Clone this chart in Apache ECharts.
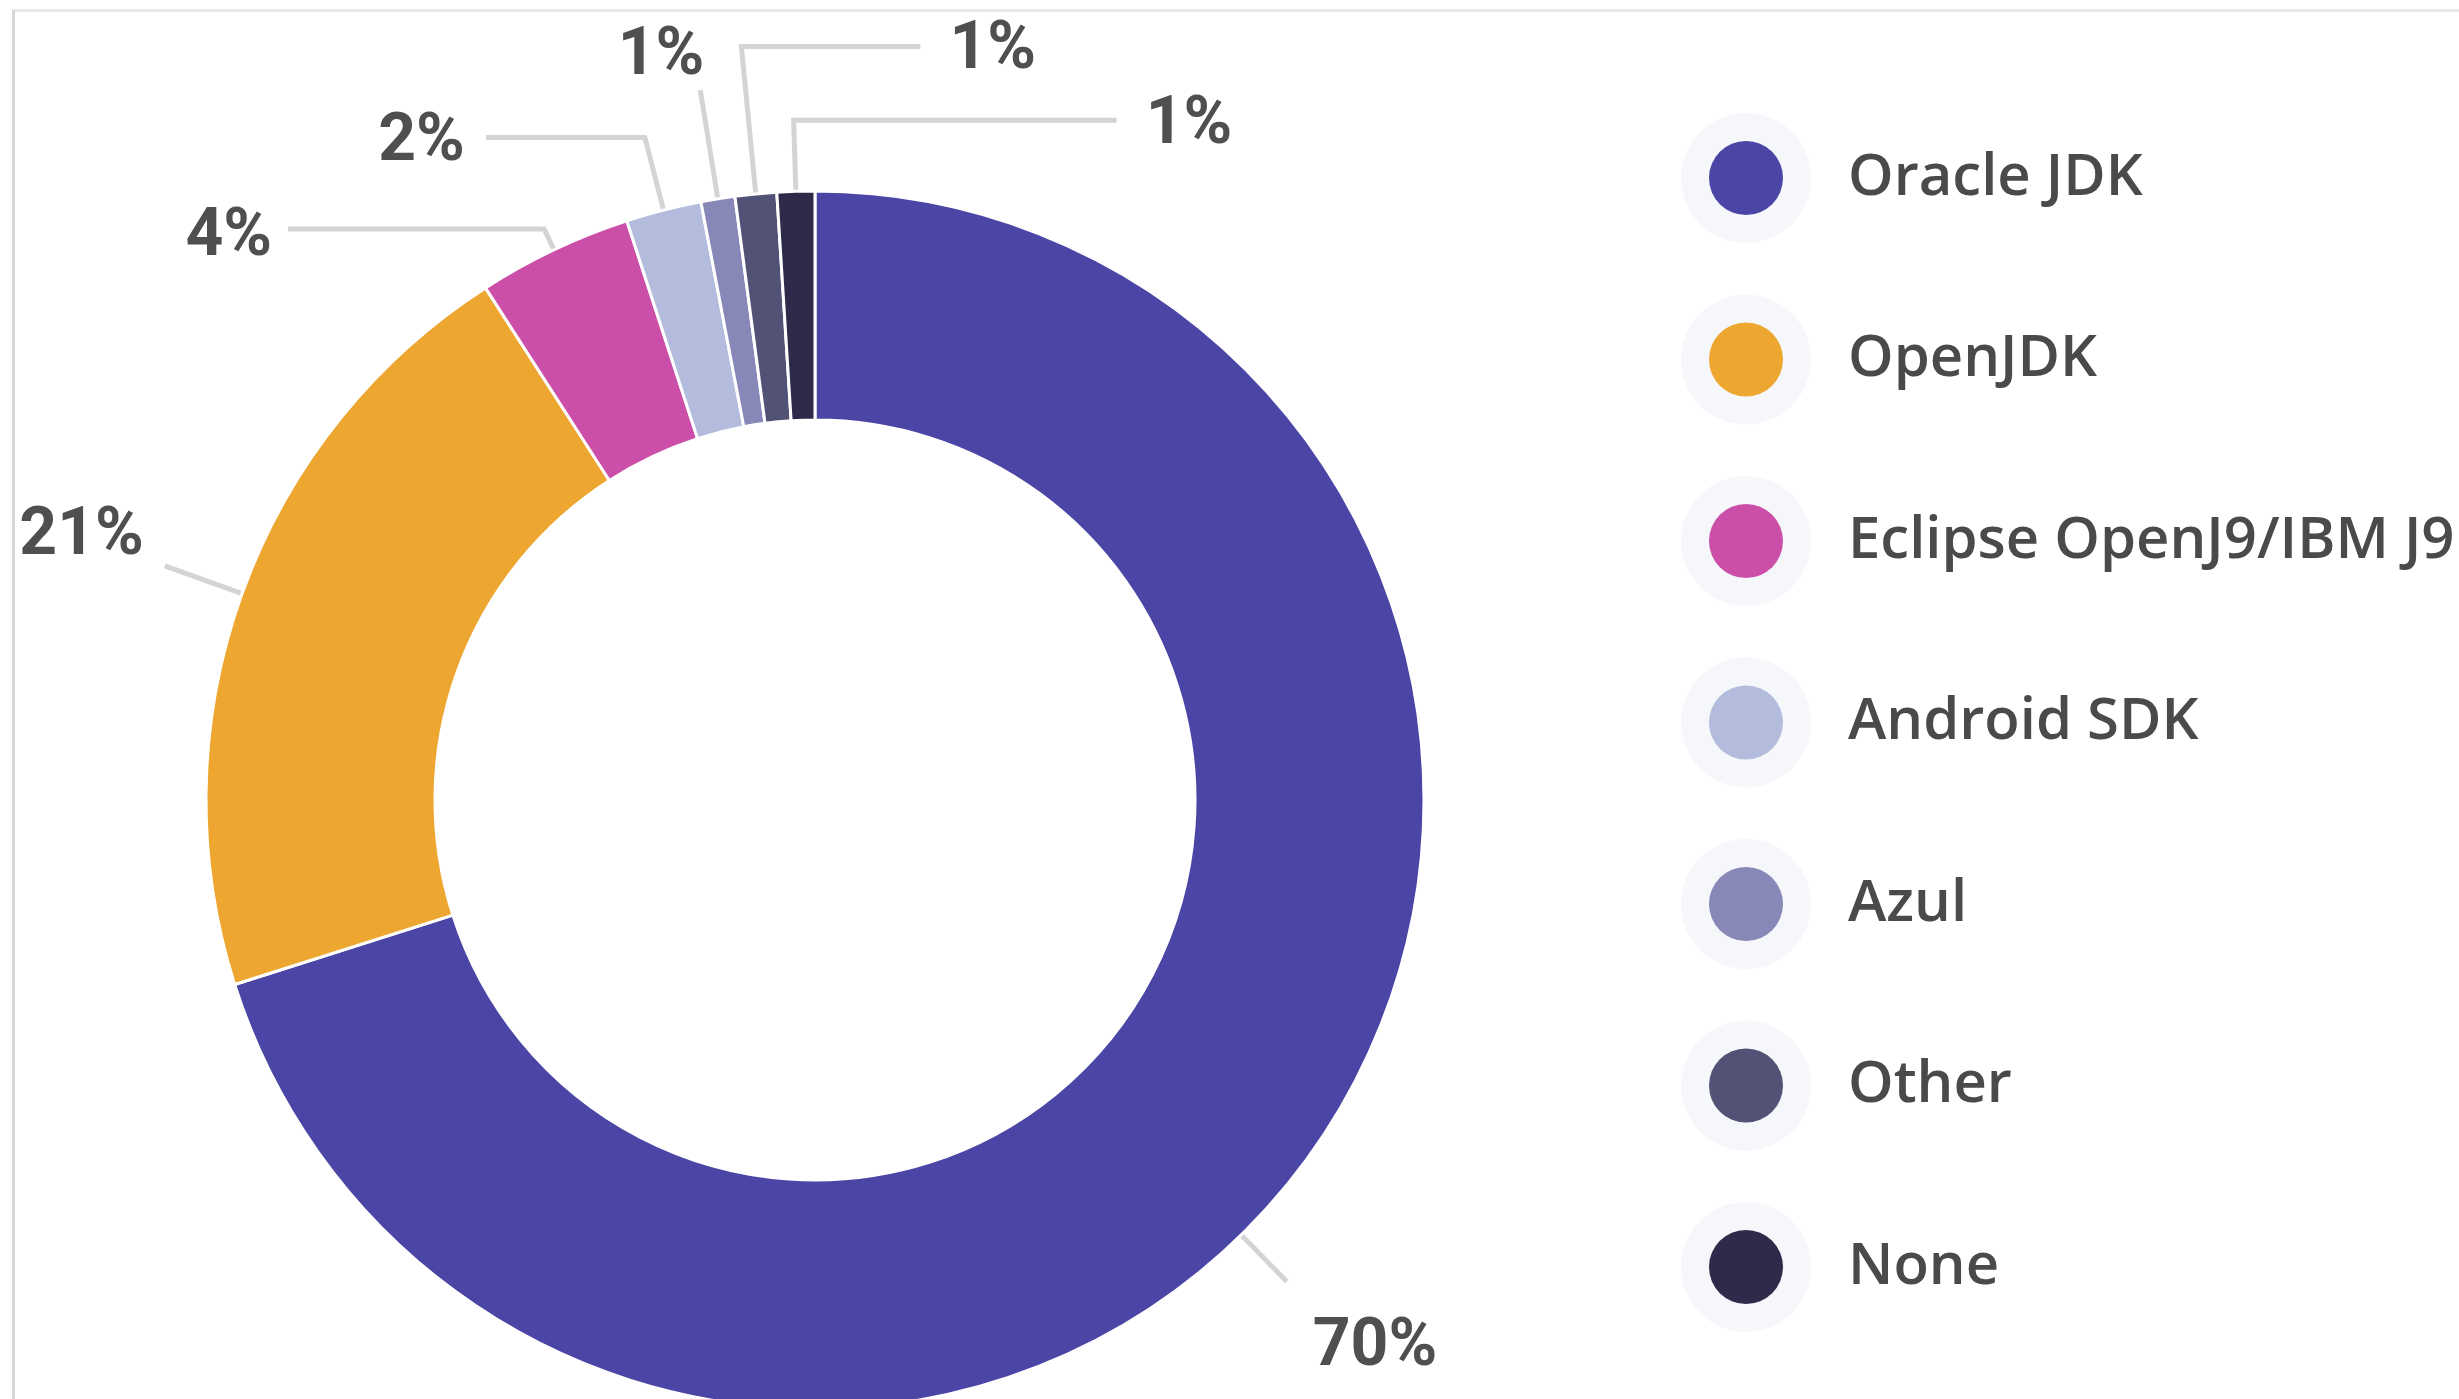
<!DOCTYPE html>
<html lang="en">
  <head>
    <meta charset="utf-8" />
    <style>
      html, body { margin: 0; height: 100%; background: #ffffff; }
      #frame {
        position: absolute; left: 12px; top: 9px; right: -20px; bottom: -20px;
        border-left: 3px solid #d6d6d6; border-top: 3px solid #e7e7e7;
      }
      #container { position: absolute; left: 0; top: 0; width: 2459px; height: 1399px; }
    </style>
  </head>
  <body>
    <div id="frame"></div>
    <div id="container"></div>

    <script src="https://cdn.jsdelivr.net/npm/echarts@6.0.0/dist/echarts.min.js"></script>
    <script type="text/javascript">
      // vendors and their share (%), clockwise from 12 o'clock
      const vendors = ["Oracle JDK", "OpenJDK", "Eclipse OpenJ9/IBM J9", "Android SDK", "Azul", "Other", "None"];
      const shares = [70.1, 20.8, 4.1, 2.0, 0.9, 1.1, 1.0];
      const colors = ["#4b45a5", "#eda630", "#cb4fa8", "#b3bcdd", "#8788b8", "#525276", "#2e2a4a"];

      // ring geometry
      const CX = 815, CY = 800, R_IN = 380, R_OUT = 609;

      // leader line / label placement per slice (px)
      const anchorShift = [9.4, 0, 0, 0, 0, 0, 0]; // degrees
      const leadLen = [65, 82, 23, 75, 110, 148, 71];
      const runLen = [0, 0, -256, -159, 0, 179, 323];
      const labelDx = [26, -21, -16, -21, 4, 29, 29];
      const labelDy = [67, -28, 10, 6, -33, 5, 6];
      const labelAlign = ["left", "right", "right", "right", "right", "left", "left"];

      const total = shares.reduce((a, b) => a + b, 0);
      const midAngles = [];
      let acc = 0;
      shares.forEach(function (v) {
        midAngles.push(((acc + v / 2) / total) * 2 * Math.PI);
        acc += v;
      });

      function placeLabel(params) {
        const i = params.dataIndex;
        const a = midAngles[i] + (anchorShift[i] * Math.PI) / 180;
        const ux = Math.sin(a), uy = -Math.cos(a);
        const edge = [CX + R_OUT * ux, CY + R_OUT * uy];
        const elbow = [edge[0] + leadLen[i] * ux, edge[1] + leadLen[i] * uy];
        const end = [elbow[0] + runLen[i], elbow[1]];
        return {
          x: end[0] + labelDx[i],
          y: end[1] + labelDy[i],
          align: labelAlign[i],
          verticalAlign: "middle",
          labelLinePoints: [edge, elbow, end],
        };
      }

      var dom = document.getElementById("container");
      var myChart = echarts.init(dom, null, { renderer: "canvas" });

      var option = {
        animation: false,
        legend: [
          {
            // pale halo behind each marker
            orient: "vertical",
            left: 1681,
            top: 113,
            padding: 0,
            itemWidth: 130,
            itemHeight: 130,
            itemGap: 51.5,
            icon: "circle",
            selectedMode: false,
            data: vendors,
            formatter: function () { return ""; },
            itemStyle: { color: "#f5f7fb", borderWidth: 0 },
            textStyle: { fontSize: 1 },
          },
          {
            orient: "vertical",
            left: 1709,
            top: 141,
            padding: 0,
            itemWidth: 74,
            itemHeight: 74,
            itemGap: 107.5,
            icon: "circle",
            selectedMode: false,
            data: vendors,
            itemStyle: { borderWidth: 0 },
            textStyle: {
              fontFamily: "Open Sans",
              fontWeight: 600,
              fontSize: 58,
              color: "#4a4a4a",
              padding: [0, 0, 0, 60],
            },
          },
        ],
        series: [
          {
            type: "pie",
            center: [CX, CY],
            radius: [R_IN, R_OUT],
            startAngle: 90,
            clockwise: true,
            avoidLabelOverlap: false,
            itemStyle: { borderColor: "#ffffff", borderWidth: 3 },
            emphasis: { disabled: true },
            label: {
              show: true,
              position: "outside",
              formatter: function (p) { return Math.round(p.value) + "%"; },
              fontFamily: "Roboto",
              fontWeight: "bold",
              fontSize: 66,
              color: "#4f4f4f",
            },
            labelLine: {
              show: true,
              length: 20,
              length2: 0,
              lineStyle: { color: "#d4d4d4", width: 5 },
            },
            labelLayout: placeLabel,
            data: vendors.map(function (name, i) {
              return { name: name, value: shares[i], itemStyle: { color: colors[i] } };
            }),
          },
        ],
      };

      myChart.setOption(option);
      window.addEventListener("resize", myChart.resize);
    </script>
  </body>
</html>
